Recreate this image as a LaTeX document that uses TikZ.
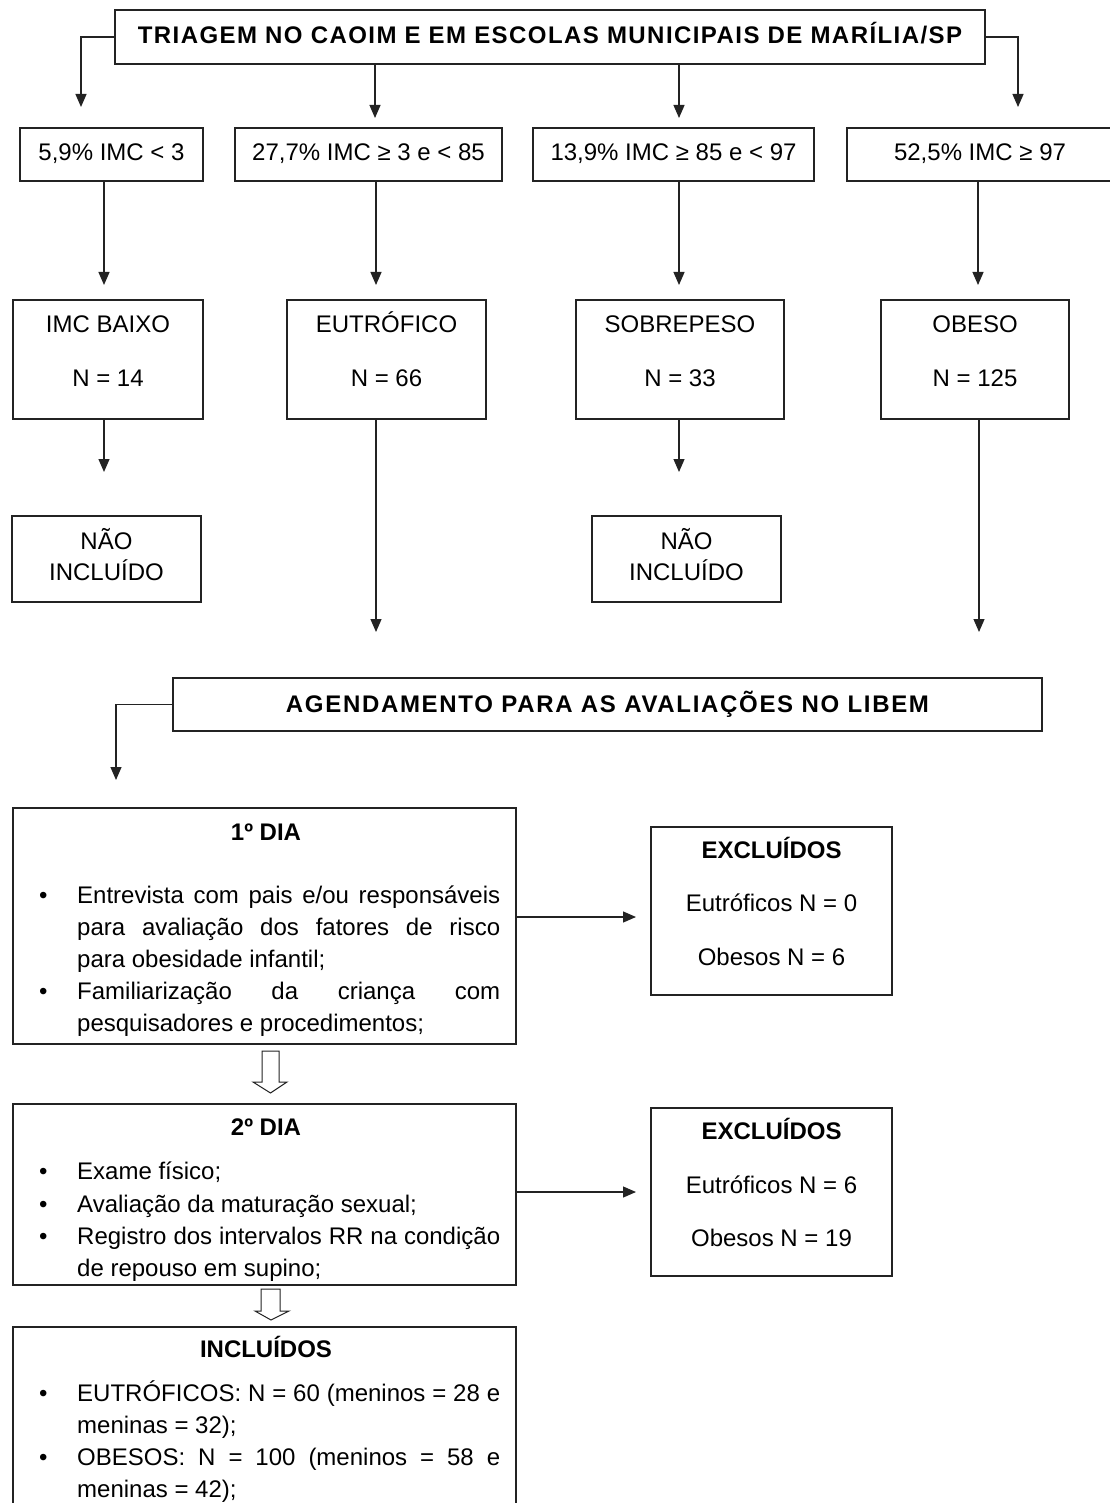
\documentclass[tikz,border=0pt]{standalone}
\usepackage{fontspec}
\setmainfont{Liberation Sans}
\newfontfamily\spacedfont[LetterSpace=6]{Liberation Sans}
\newfontfamily\spacedfontb[LetterSpace=7]{Liberation Sans}
\usetikzlibrary{arrows.meta,fit,calc}
\definecolor{lc}{RGB}{35,35,35}
\newcommand{\bul}{\par\noindent\hangindent=38pt\hangafter=1\makebox[38pt][l]{•}\strut}
\newcommand{\mkbox}[5]{\node[bx,fit={(#2,#3)(#4,#5)}] (#1) {};}
\tikzset{
  bx/.style={draw=lc, line width=1.2pt, inner sep=0pt},
  arr/.style={draw=lc, line width=1.2pt, -{Triangle[width=11pt,length=13pt]}},
  hol/.style={draw=lc, line width=1pt, fill=white, line join=miter},
  tx/.style={inner sep=0pt, anchor=base, font=\fontsize{24}{29}\selectfont},
  tb/.style={inner sep=0pt, anchor=base, font=\fontsize{24}{29}\selectfont\bfseries},
  ts/.style={inner sep=0pt, anchor=base, font=\fontsize{24}{29}\selectfont\spacedfont\bfseries},
  tsb/.style={inner sep=0pt, anchor=base, font=\fontsize{24}{29}\selectfont\spacedfontb\bfseries},
  blk/.style={inner sep=0pt, anchor=north west, text width=461pt, align=justify}
}
\begin{document}
\begin{tikzpicture}[x=1pt,y=-1pt]
\useasboundingbox[fill=white] (0,0) rectangle (1109,1503);

% top box
\mkbox{top}{115}{10}{985}{64}
\node[ts] (toptxt) at (550,44) {TRIAGEM NO CAOIM E EM ESCOLAS MUNICIPAIS DE MARÍLIA/SP};

% row 2
\mkbox{p1}{20}{128}{203}{181}
\mkbox{p2}{235}{128}{502}{181}
\mkbox{p3}{533}{128}{814}{181}
\mkbox{p4}{847}{128}{1115}{181}
\node[tx] (p1t) at (111.5,161) {5,9\% IMC < 3};
\node[tx] (p2t) at (368.5,161) {27,7\% IMC ≥ 3 e < 85};
\node[tx] (p3t) at (673.5,161) {13,9\% IMC ≥ 85 e < 97};
\node[tx] (p4t) at (980,161) {52,5\% IMC ≥ 97};

% row 3
\mkbox{q1}{13}{300}{203}{419}
\mkbox{q2}{287}{300}{486}{419}
\mkbox{q3}{576}{300}{784}{419}
\mkbox{q4}{881}{300}{1069}{419}
\node[tx] (q1a) at (108,332) {IMC BAIXO};
\node[tx] (q1b) at (108,386) {N = 14};
\node[tx] (q2a) at (386.5,332) {EUTRÓFICO};
\node[tx] (q2b) at (386.5,386) {N = 66};
\node[tx] (q3a) at (680,332) {SOBREPESO};
\node[tx] (q3b) at (680,386) {N = 33};
\node[tx] (q4a) at (975,332) {OBESO};
\node[tx] (q4b) at (975,386) {N = 125};

% row 4
\mkbox{n1}{12}{516}{201}{602}
\mkbox{n3}{592}{516}{781}{602}
\node[tx] (n1a) at (106.5,549) {NÃO};
\node[tx] (n1b) at (106.5,580) {INCLUÍDO};
\node[tx] (n3a) at (686.5,549) {NÃO};
\node[tx] (n3b) at (686.5,580) {INCLUÍDO};

% agendamento
\mkbox{ag}{173}{678}{1042}{731}
\node[tsb] (agt) at (607.5,712) {AGENDAMENTO PARA AS AVALIAÇÕES NO LIBEM};

% day 1
\mkbox{dA}{13}{808}{516}{1044}
\node[tb] (dAt) at (266,840) {1º DIA};
\node[blk, font=\fontsize{24}{32}\selectfont] (dAb) at (39,871.6) {\bul Entrevista com pais e/ou responsáveis\linebreak para avaliação dos fatores de risco\linebreak para obesidade infantil;\bul Familiarização da criança com\linebreak pesquisadores e procedimentos;\par};

\mkbox{ex1}{651}{827}{892}{995}
\node[tb] (ex1a) at (771.5,858) {EXCLUÍDOS};
\node[tx] (ex1b) at (771.5,911) {Eutróficos N = 0};
\node[tx] (ex1c) at (771.5,965) {Obesos N = 6};

% day 2
\mkbox{dB}{13}{1104}{516}{1285}
\node[tb] (dBt) at (266,1135) {2º DIA};
\node[blk, font=\fontsize{24}{32.3}\selectfont] (dBb) at (39,1147.4) {\bul Exame físico;\bul Avaliação da maturação sexual;\bul Registro dos intervalos RR na condição\linebreak de repouso em supino;\par};

\mkbox{ex2}{651}{1108}{892}{1276}
\node[tb] (ex2a) at (771.5,1139) {EXCLUÍDOS};
\node[tx] (ex2b) at (771.5,1193) {Eutróficos N = 6};
\node[tx] (ex2c) at (771.5,1246) {Obesos N = 19};

% included
\mkbox{inc}{13}{1327}{516}{1515}
\node[tb] (inct) at (266,1357) {INCLUÍDOS};
\node[blk, font=\fontsize{24}{32}\selectfont] (incb) at (39,1369.6) {\bul EUTRÓFICOS: N = 60 (meninos = 28 e\linebreak meninas = 32);\bul OBESOS: N = 100 (meninos = 58 e\linebreak meninas = 42);\par};

% free ends
\coordinate (tl) at (81,107);
\coordinate (tm1) at (375,118);
\coordinate (tm2) at (679,118);
\coordinate (tr) at (1018,107);
\coordinate (r1) at (104,285);
\coordinate (r2) at (376,285);
\coordinate (r3) at (679,285);
\coordinate (r4) at (978,285);
\coordinate (s1) at (104,472);
\coordinate (s3) at (679,472);
\coordinate (g2) at (376,632);
\coordinate (g4) at (979,632);
\coordinate (ad) at (116,780);
\coordinate (x1) at (636,917);
\coordinate (x2) at (636,1192);

% connectors
\draw[arr] (top.west) -| (tl);
\draw[arr] (top.east) -| (tr);
\draw[arr] (top.south -| tm1) -- (tm1);
\draw[arr] (top.south -| tm2) -- (tm2);
\draw[arr] (p1.south -| r1) -- (r1);
\draw[arr] (p2.south -| r2) -- (r2);
\draw[arr] (p3.south -| r3) -- (r3);
\draw[arr] (p4.south -| r4) -- (r4);
\draw[arr] (q1.south -| s1) -- (s1);
\draw[arr] (q3.south -| s3) -- (s3);
\draw[arr] (q2.south -| g2) -- (g2);
\draw[arr] (q4.south -| g4) -- (g4);
\draw[arr] (ag.west) -| (ad);
\draw[arr] (dA.east |- x1) -- (x1);
\draw[arr] (dB.east |- x2) -- (x2);

% hollow arrows
\draw[hol] (262,1051) -- (279,1051) -- (279,1082) -- (287,1082) -- (270.5,1093) -- (253,1082) -- (262,1082) -- cycle;
\draw[hol] (261,1289) -- (280,1289) -- (280,1311) -- (289,1311) -- (271,1320) -- (255,1311) -- (261,1311) -- cycle;
\end{tikzpicture}
\end{document}
